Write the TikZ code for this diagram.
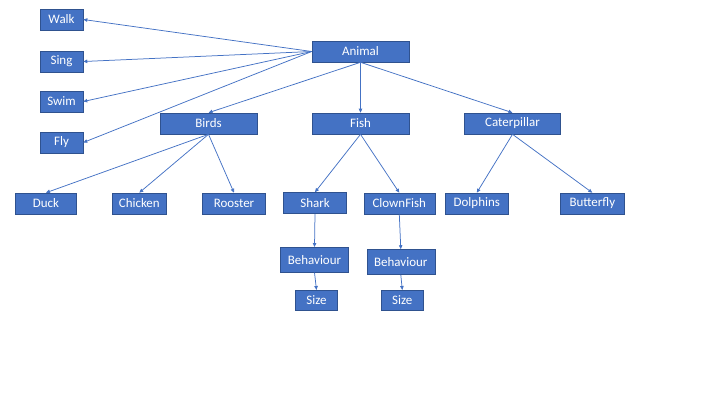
\documentclass[tikz,border=0pt]{standalone}
\usepackage{fontspec}
\setmainfont{Carlito}
\usepackage{tikz}
\usetikzlibrary{arrows.meta, positioning}
\definecolor{officeblue}{HTML}{4472C4}
\definecolor{officeedge}{HTML}{2F528F}
\tikzset{>={Triangle[length=4pt,width=3.5pt]}}

\begin{document}
\begin{tikzpicture}[x=1bp,y=-1bp,
    box/.style={draw=officeedge, fill=officeblue, text=white, line width=0.6bp,
        minimum height=21bp, inner sep=0pt, font=\fontsize{13}{15}\selectfont},
    link/.style={->, draw=officeblue, line width=0.75bp}]
            \useasboundingbox (0,0) rectangle (720,405);

            \node[box, minimum width=43bp] (walk) at (61.5,19.5) {Walk};
            \node[box, minimum width=43bp] (sing) at (61.5,61.5) {Sing};
            \node[box, minimum width=43bp] (swim) at (61.5,101.5) {Swim};
            \node[box, minimum width=43bp] (fly) at (61.5,142.5) {Fly};

            \node[box, minimum width=97bp] (animal) at (360.5,51.5) {Animal};
            \node[box, minimum width=97bp] (birds) at (208.5,123.5) {Birds};
            \node[box, minimum width=97bp] (fish) at (360.5,123.5) {Fish};
            \node[box, minimum width=96bp] (cater) at (512.5,123.5) {Caterpillar};

            \node[box, minimum width=61bp] (duck) at (46,203.5) {Duck};
            \node[box, minimum width=54bp] (chicken) at (139.3,203.5) {Chicken};
            \node[box, minimum width=63bp] (rooster) at (234,203.5) {Rooster};
            \node[box, minimum width=63bp] (shark) at (315,203) {Shark};
            \node[box, minimum width=71bp] (clown) at (399.3,203.5) {ClownFish};
            \node[box, minimum width=63bp] (dolphins) at (476.8,203.5) {Dolphins};
            \node[box, minimum width=64bp] (butterfly) at (592.3,203.5) {Butterfly};

            \node[box, minimum width=68bp, minimum height=25bp] (behshark) at (314.5,259.8) {Behaviour};
            \node[box, minimum width=68bp, minimum height=25bp] (behclown) at (400.8,262) {Behaviour};
            \node[box, minimum width=42bp, minimum height=20bp] (sizeshark) at (316.5,300.3) {Size};
            \node[box, minimum width=42bp, minimum height=20bp] (sizeclown) at (402.3,300.3) {Size};

            \draw[link](animal.west) -- (walk.east);
            \draw[link](animal.west) -- (sing.east);
            \draw[link](animal.west) -- (swim.east);
            \draw[link](animal.west) -- (fly.east);

            \draw[link](animal.south) -- (birds.north);
            \draw[link](animal.south) -- (fish.north);
            \draw[link](animal.south) -- (cater.north);

            \draw[link](birds.south) -- (duck.north);
            \draw[link](birds.south) -- (chicken.north);
            \draw[link](birds.south) -- (rooster.north);

            \draw[link](fish.south) -- (shark.north);
            \draw[link](fish.south) -- (clown.north);

            \draw[link](cater.south) -- (dolphins.north);
            \draw[link](cater.south) -- (butterfly.north);

            \draw[link](shark.south) -- (behshark.north);
            \draw[link](behshark.south) -- (sizeshark.north);
            \draw[link](clown.south) -- (behclown.north);
            \draw[link](behclown.south) -- (sizeclown.north);

            \end{tikzpicture}
\end{document}
